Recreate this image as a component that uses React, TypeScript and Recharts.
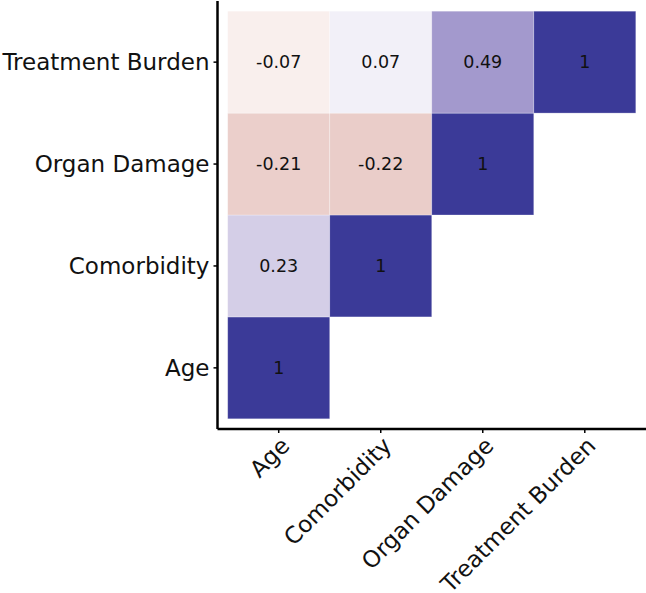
// Lower-triangle correlation heatmap drawn as square tiles on a numeric scatter grid.
import { ScatterChart, Scatter, XAxis, YAxis } from "recharts";

const variables = ["Age", "Comorbidity", "Organ Damage", "Treatment Burden"];

// one row per variable (bottom to top), values for columns Age .. itself
const rowAge = [1];
const rowComorbidity = [0.23, 1];
const rowOrganDamage = [-0.21, -0.22, 1];
const rowTreatmentBurden = [-0.07, 0.07, 0.49, 1];

const rows = [rowAge, rowComorbidity, rowOrganDamage, rowTreatmentBurden];
const tickPositions = [1, 2, 3, 4];

const cells = rows.flatMap((row, i) =>
  row.map((value, j) => ({ x: j + 1, y: i + 1, value }))
);

const W = 646;
const H = 593;
const LEFT = 217.5;
const TOP = 1;
const BOTTOM = 164;
const DOMAIN: [number, number] = [0.4, 4.6];
const unitX = (W - LEFT) / (DOMAIN[1] - DOMAIN[0]);
const unitY = (H - TOP - BOTTOM) / (DOMAIN[1] - DOMAIN[0]);

const FONT = "'DejaVu Sans', sans-serif";

// diverging fill, interpolated in CIELAB like a gradient2 scale
const HIGH = [59, 58, 152];
const LOW_LAB = [30, 43, 26];

function toLin(c: number) {
  const s = c / 255;
  return s <= 0.04045 ? s / 12.92 : Math.pow((s + 0.055) / 1.055, 2.4);
}
function fromLin(c: number) {
  const s = c <= 0.0031308 ? 12.92 * c : 1.055 * Math.pow(c, 1 / 2.4) - 0.055;
  return Math.max(0, Math.min(255, Math.round(s * 255)));
}
function rgbToLab([r, g, b]: number[]) {
  const R = toLin(r), G = toLin(g), B = toLin(b);
  const X = (0.4124 * R + 0.3576 * G + 0.1805 * B) / 0.95047;
  const Y = 0.2126 * R + 0.7152 * G + 0.0722 * B;
  const Z = (0.0193 * R + 0.1192 * G + 0.9505 * B) / 1.08883;
  const f = (t: number) => (t > 0.008856 ? Math.cbrt(t) : 7.787 * t + 16 / 116);
  const fx = f(X), fy = f(Y), fz = f(Z);
  return [116 * fy - 16, 500 * (fx - fy), 200 * (fy - fz)];
}
function labToRgb([L, a, b]: number[]) {
  const fy = (L + 16) / 116;
  const fx = fy + a / 500;
  const fz = fy - b / 200;
  const inv = (t: number) => (t * t * t > 0.008856 ? t * t * t : (t - 16 / 116) / 7.787);
  const X = inv(fx) * 0.95047, Y = inv(fy), Z = inv(fz) * 1.08883;
  const R = 3.2406 * X - 1.5372 * Y - 0.4986 * Z;
  const G = -0.9689 * X + 1.8758 * Y + 0.0415 * Z;
  const B = 0.0557 * X - 0.204 * Y + 1.057 * Z;
  return [fromLin(R), fromLin(G), fromLin(B)];
}
const WHITE_LAB = [100, 0, 0];
const HIGH_LAB = rgbToLab(HIGH);

function fillFor(v: number) {
  const end = v >= 0 ? HIGH_LAB : LOW_LAB;
  const t = Math.min(1, Math.abs(v));
  const lab = WHITE_LAB.map((w, k) => w + (end[k] - w) * t);
  const c = t >= 1 && v > 0 ? HIGH : labToRgb(lab);
  return `rgb(${c[0]},${c[1]},${c[2]})`;
}

function Tile(props: any) {
  const { cx, cy, payload } = props;
  if (cx == null || cy == null) return null;
  return (
    <g>
      <rect
        x={cx - unitX / 2}
        y={cy - unitY / 2}
        width={unitX}
        height={unitY}
        fill={fillFor(payload.value)}
        stroke="#ffffff"
        strokeOpacity={0.35}
        strokeWidth={0.8}
      />
      <text
        x={cx}
        y={cy}
        dy="0.36em"
        textAnchor="middle"
        fontFamily={FONT}
        fontSize={17.5}
        fill="#111"
      >
        {String(payload.value)}
      </text>
    </g>
  );
}

function XTick(props: any) {
  const { x, payload } = props;
  const ay = H - BOTTOM + 6;
  return (
    <text
      x={x}
      y={ay}
      dy="0.75em"
      textAnchor="end"
      transform={`rotate(-45, ${x}, ${ay})`}
      fontFamily={FONT}
      fontSize={23}
      fill="#111"
    >
      {variables[payload.value - 1]}
    </text>
  );
}

function YTick(props: any) {
  const { y, payload } = props;
  return (
    <text
      x={LEFT - 8}
      y={y}
      dy="0.36em"
      textAnchor="end"
      fontFamily={FONT}
      fontSize={23}
      fill="#111"
    >
      {variables[payload.value - 1]}
    </text>
  );
}

export default function App() {
  return (
    <div style={{ position: "absolute", left: 0, top: 0, width: W, height: H, background: "#fff" }}>
      <ScatterChart width={W} height={H} margin={{ top: TOP, right: 0, bottom: 0, left: 0 }}>
        <XAxis
          type="number"
          dataKey="x"
          domain={DOMAIN}
          ticks={tickPositions}
          interval={0}
          allowDataOverflow
          height={BOTTOM}
          axisLine={{ stroke: "#000", strokeWidth: 2.5 }}
          tickLine={{ stroke: "#000", strokeWidth: 1.5 }}
          tickSize={4}
          tick={<XTick />}
        />
        <YAxis
          type="number"
          dataKey="y"
          domain={DOMAIN}
          ticks={tickPositions}
          interval={0}
          allowDataOverflow
          width={LEFT}
          axisLine={{ stroke: "#000", strokeWidth: 2.5 }}
          tickLine={{ stroke: "#000", strokeWidth: 1.5 }}
          tickSize={4}
          tick={<YTick />}
        />
        <Scatter data={cells} shape={(p: any) => <Tile {...p} />} isAnimationActive={false} />
      </ScatterChart>
    </div>
  );
}
